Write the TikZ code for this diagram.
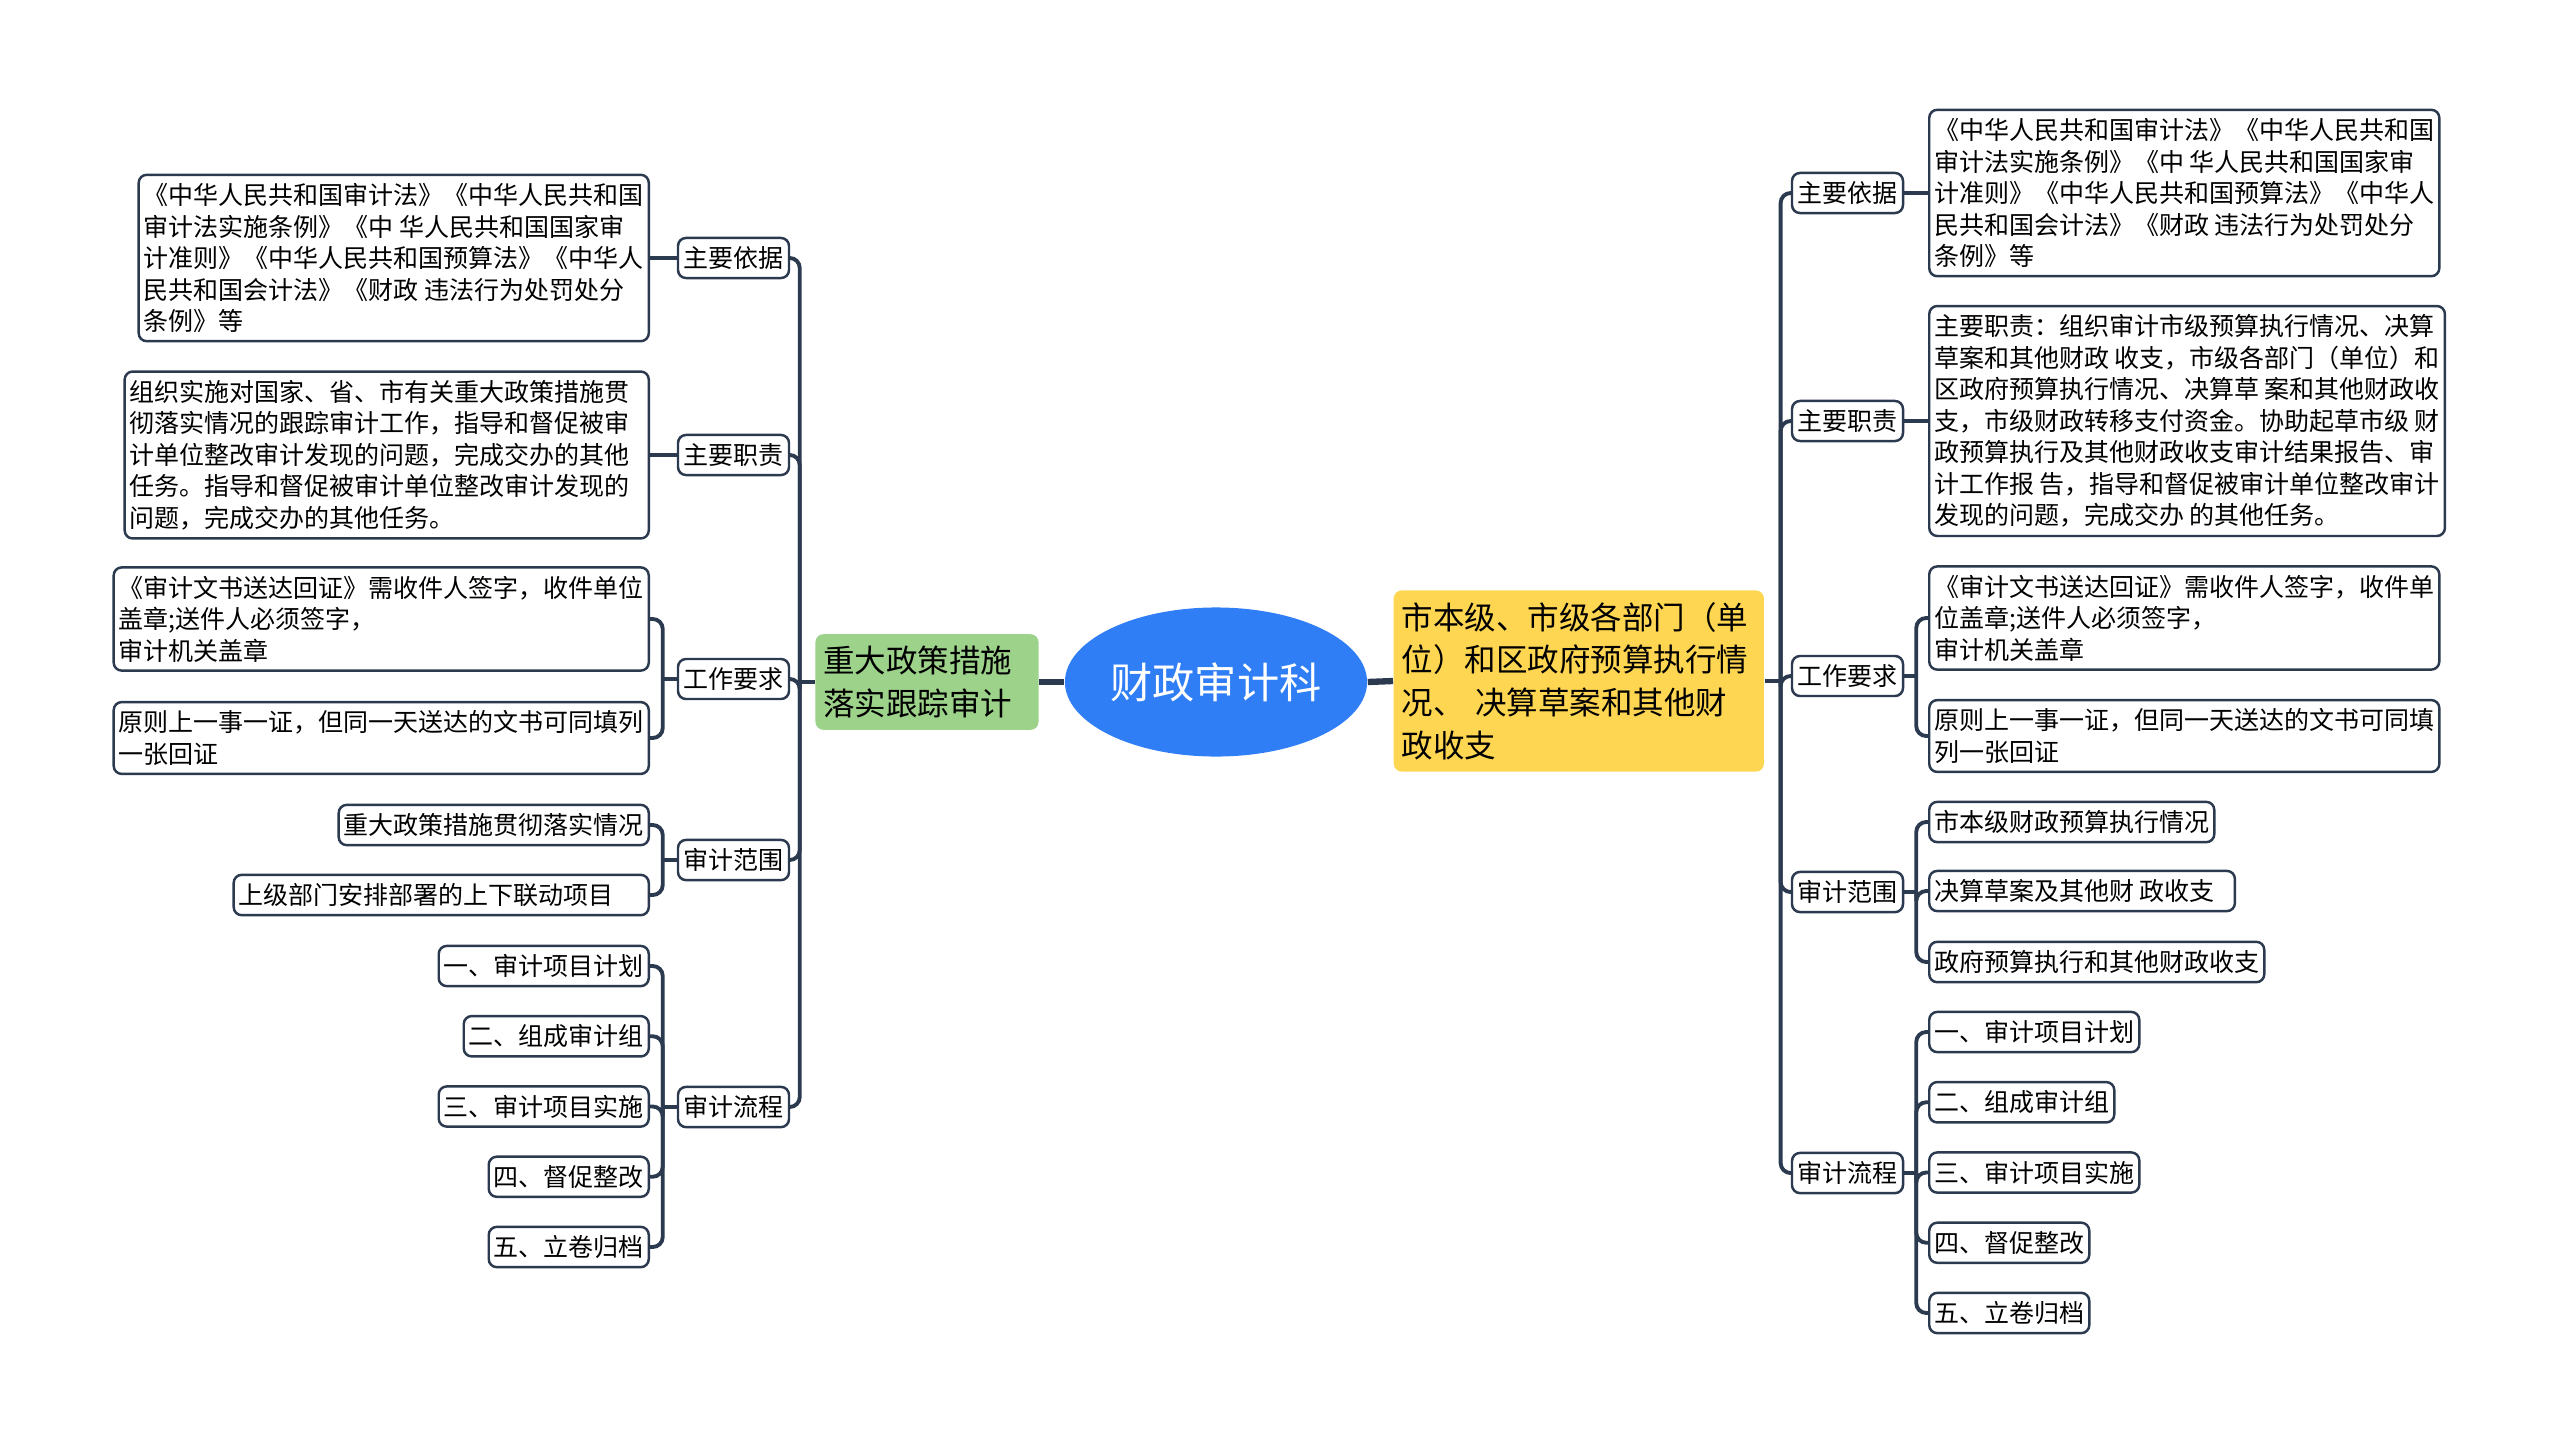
\documentclass[tikz,border=0pt]{standalone}
\usepackage{fontspec}
\setmainfont{Noto Sans CJK SC}
\usepackage{tikz}
\usetikzlibrary{shapes.geometric, positioning}
\definecolor{topicblue}{RGB}{47,126,245}
\definecolor{policygreen}{RGB}{157,210,138}
\definecolor{budgetyellow}{RGB}{255,214,82}
\definecolor{linknavy}{RGB}{44,58,80}

\begin{document}
\begin{tikzpicture}[x=0.01cm, y=-0.01cm,
  topic/.style={ellipse, fill=topicblue, text=white, minimum width=3.02cm, minimum height=1.49cm, inner sep=0pt, font=\fontsize{12}{14}\selectfont},
  mainbox/.style={rounded corners=0.08cm, align=left, inner xsep=0.08cm, inner ysep=0.12cm, font=\fontsize{8.96}{12.1}\selectfont},
  subbox/.style={draw=linknavy, line width=0.7pt, fill=white, rounded corners=0.08cm, align=left, inner xsep=0.055cm, inner ysep=0.085cm, font=\fontsize{7.11}{8.96}\selectfont},
  leafbox/.style={subbox, inner xsep=0.05cm},
  link/.style={draw=linknavy, line width=1.1pt, rounded corners=0.1cm},
  mainlink/.style={draw=linknavy, line width=1.8pt}]
\useasboundingbox (0,0) rectangle (2560,1442);

% Centre
\node[topic] (root) at (1216,682) {财政审计科};
\node[mainbox, fill=policygreen, text width=2.07cm] (policy) at (927,682) {重大政策措施\\落实跟踪审计};
\node[mainbox, fill=budgetyellow, text width=3.54cm, anchor=west] (budget) at (1393,681) {市本级、市级各部门（单\\位）和区政府预算执行情\\况、 决算草案和其他财\\政收支};
\draw[mainlink] (root.west) -- (policy.east);
\draw[mainlink] (root.east) -- (budget.west);

% Left branch
\node[subbox] (lbasis) at (733.5,258) {主要依据};
\node[subbox] (lduty) at (733.5,455) {主要职责};
\node[subbox] (lreq) at (733.5,679) {工作要求};
\node[subbox] (lscope) at (733.5,860) {审计范围};
\node[subbox] (lflow) at (733.5,1107) {审计流程};
\draw[link] (policy.west) -- ++(-15,0) coordinate (ljoint);
\foreach \n in {lbasis,lduty,lreq,lscope,lflow}
  \draw[link] (ljoint) |- (\n.east);

\node[leafbox, anchor=east] (lbasisa) at (650,258) {《中华人民共和国审计法》《中华人民共和国\\审计法实施条例》《中 华人民共和国国家审\\计准则》《中华人民共和国预算法》《中华人\\民共和国会计法》《财政 违法行为处罚处分\\条例》等};
\node[leafbox, anchor=east] (ldutya) at (650,455) {组织实施对国家、省、市有关重大政策措施贯\hspace*{0.14cm}\\彻落实情况的跟踪审计工作，指导和督促被审\\计单位整改审计发现的问题，完成交办的其他\\任务。指导和督促被审计单位整改审计发现的\\问题，完成交办的其他任务。};
\node[leafbox, anchor=east] (lreqa) at (650,619) {《审计文书送达回证》需收件人签字，收件单位\\盖章;送件人必须签字，\\审计机关盖章};
\node[leafbox, anchor=east] (lreqb) at (650,738) {原则上一事一证，但同一天送达的文书可同填列\\一张回证};
\node[leafbox, anchor=east] (lscopea) at (650,825) {重大政策措施贯彻落实情况};
\node[leafbox, anchor=east] (lscopeb) at (650,895) {上级部门安排部署的上下联动项目\hspace*{0.3cm}};
\foreach \t [count=\i] in {一、审计项目计划,二、组成审计组,三、审计项目实施,四、督促整改,五、立卷归档}
  \node[leafbox, anchor=east] (lstep\i) at (650,{966+70.25*(\i-1)}) {\t};

\draw[link] (lbasis.west) -- (lbasisa.east);
\draw[link] (lduty.west) -- (ldutya.east);
\draw[link] (lreq.west) -- ++(-14,0) coordinate (lreqj);
\foreach \n in {lreqa,lreqb}
  \draw[link] (lreqj) |- (\n.east);
\draw[link] (lscope.west) -- ++(-14,0) coordinate (lscopej);
\foreach \n in {lscopea,lscopeb}
  \draw[link] (lscopej) |- (\n.east);
\draw[link] (lflow.west) -- ++(-14,0) coordinate (lflowj);
\foreach \i in {1,...,5}
  \draw[link] (lflowj) |- (lstep\i.east);

% Right branch
\node[subbox] (rbasis) at (1847.5,193) {主要依据};
\node[subbox] (rduty) at (1847.5,421) {主要职责};
\node[subbox] (rreq) at (1847.5,676) {工作要求};
\node[subbox] (rscope) at (1847.5,892) {审计范围};
\node[subbox] (rflow) at (1847.5,1173) {审计流程};
\draw[link] (budget.east) -- ++(16,0) coordinate (rjoint);
\foreach \n in {rbasis,rduty,rreq,rscope,rflow}
  \draw[link] (rjoint) |- (\n.west);

\node[leafbox, anchor=west] (rbasisa) at (1928,193) {《中华人民共和国审计法》《中华人民共和国\\审计法实施条例》《中 华人民共和国国家审\\计准则》《中华人民共和国预算法》《中华人\\民共和国会计法》《财政 违法行为处罚处分\\条例》等};
\node[leafbox, anchor=west] (rdutya) at (1928,421) {主要职责：组织审计市级预算执行情况、决算\\草案和其他财政 收支，市级各部门（单位）和\\区政府预算执行情况、决算草 案和其他财政收\\支，市级财政转移支付资金。协助起草市级 财\\政预算执行及其他财政收支审计结果报告、审\\计工作报 告，指导和督促被审计单位整改审计\\发现的问题，完成交办 的其他任务。};
\node[leafbox, anchor=west] (rreqa) at (1928,618) {《审计文书送达回证》需收件人签字，收件单\\位盖章;送件人必须签字，\\审计机关盖章};
\node[leafbox, anchor=west] (rreqb) at (1928,736) {原则上一事一证，但同一天送达的文书可同填\\列一张回证};
\node[leafbox, anchor=west] (rscopea) at (1928,822) {市本级财政预算执行情况};
\node[leafbox, anchor=west] (rscopeb) at (1928,891) {决算草案及其他财 政收支\hspace*{0.15cm}};
\node[leafbox, anchor=west] (rscopec) at (1928,962) {政府预算执行和其他财政收支};
\foreach \t [count=\i] in {一、审计项目计划,二、组成审计组,三、审计项目实施,四、督促整改,五、立卷归档}
  \node[leafbox, anchor=west] (rstep\i) at (1928,{1032+70.25*(\i-1)}) {\t};

\draw[link] (rbasis.east) -- (rbasisa.west);
\draw[link] (rduty.east) -- (rdutya.west);
\draw[link] (rreq.east) -- ++(12,0) coordinate (rreqj);
\foreach \n in {rreqa,rreqb}
  \draw[link] (rreqj) |- (\n.west);
\draw[link] (rscope.east) -- ++(12,0) coordinate (rscopej);
\foreach \n in {rscopea,rscopeb,rscopec}
  \draw[link] (rscopej) |- (\n.west);
\draw[link] (rflow.east) -- ++(12,0) coordinate (rflowj);
\foreach \i in {1,...,5}
  \draw[link] (rflowj) |- (rstep\i.west);
\end{tikzpicture}
\end{document}
